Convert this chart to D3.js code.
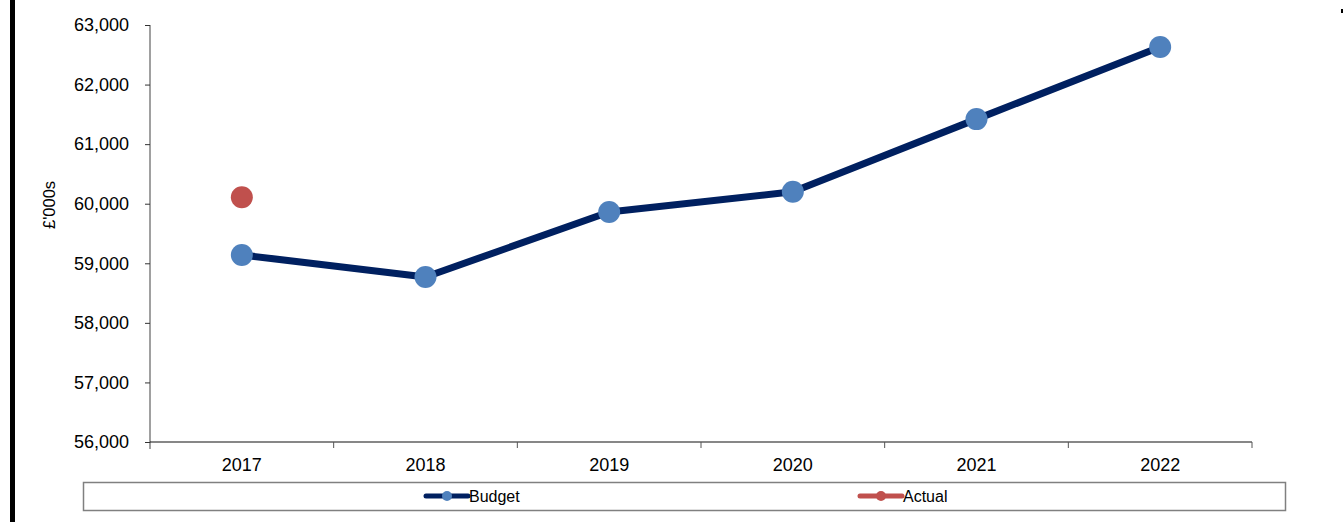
<!DOCTYPE html>
<html>
<head>
<meta charset="utf-8">
<script src="https://cdn.jsdelivr.net/npm/d3@7"></script>
<style>
  html, body { margin: 0; padding: 0; background: #fff; }
  svg { display: block; font-family: "Liberation Sans", Arial, sans-serif; }
</style>
</head>
<body>
<svg id="chart" width="1343" height="522"></svg>
<script>
// Annual figures, £'000s
const years = ["2017", "2018", "2019", "2020", "2021", "2022"];
const budget = [59140, 58770, 59860, 60200, 61420, 62630];
const actual = [60110, null, null, null, null, null];
const yTicks = [56000, 57000, 58000, 59000, 60000, 61000, 62000, 63000];

const svg = d3.select("#chart");
const margin = { left: 150, right: 1252, top: 25, bottom: 442 };

// Black frame edge on the left
svg.append("rect").attr("x", 10).attr("y", 0).attr("width", 5).attr("height", 522).attr("fill", "#000");
svg.append("rect").attr("x", 1341).attr("y", 9).attr("width", 2).attr("height", 4).attr("fill", "#000");

const x = d3.scaleBand().domain(years).range([margin.left, margin.right]);
const y = d3.scaleLinear().domain([56000, 63000]).range([margin.bottom, margin.top]);

// Y axis
const yAxis = svg.append("g")
  .attr("transform", `translate(${margin.left},0)`)
  .call(d3.axisLeft(y).tickValues(yTicks).tickFormat(d3.format(",")).tickSize(5).tickPadding(16));
yAxis.select(".domain").attr("stroke", "#808080").attr("stroke-width", 1.5).attr("d", `M0,${margin.top}V${margin.bottom + 7}`);
yAxis.selectAll(".tick line").attr("stroke", "#333");
yAxis.selectAll("text").attr("font-size", 18).attr("fill", "#000");

// X axis with ticks between categories
const xAxis = svg.append("g").attr("transform", `translate(0,${margin.bottom})`);
xAxis.append("line").attr("x1", margin.left).attr("x2", margin.right).attr("stroke", "#111").attr("stroke-width", 1.2);
const bounds = years.map((d) => x(d) + x.bandwidth());
xAxis.selectAll("line.tk").data(bounds).join("line")
  .attr("class", "tk")
  .attr("x1", (d) => d).attr("x2", (d) => d).attr("y1", 0).attr("y2", 6)
  .attr("stroke", "#555");
xAxis.selectAll("text").data(years).join("text")
  .attr("x", (d) => x(d) + x.bandwidth() / 2)
  .attr("y", 29)
  .attr("text-anchor", "middle")
  .attr("font-size", 18)
  .attr("fill", "#000")
  .text((d) => d);

// Y axis title
svg.append("text")
  .attr("transform", "translate(55,205) rotate(-90)")
  .attr("text-anchor", "middle")
  .attr("font-size", 16.5)
  .attr("fill", "#000")
  .text("£'000s");

const cx = (i) => x(years[i]) + x.bandwidth() / 2;
const navy = "#002060";
const blue = "#4f81bd";
const red = "#c0504d";

// Budget line and markers
const line = d3.line().x((d, i) => cx(i)).y((d) => y(d));
svg.append("path").datum(budget).attr("d", line)
  .attr("fill", "none").attr("stroke", navy).attr("stroke-width", 7).attr("stroke-linejoin", "round");
svg.selectAll("circle.budget").data(budget).join("circle")
  .attr("class", "budget")
  .attr("cx", (d, i) => cx(i)).attr("cy", (d) => y(d)).attr("r", 11)
  .attr("fill", blue);

// Actual markers
svg.selectAll("circle.actual").data(actual.map((v, i) => ({ v, i })).filter((d) => d.v !== null)).join("circle")
  .attr("class", "actual")
  .attr("cx", (d) => cx(d.i)).attr("cy", (d) => y(d.v)).attr("r", 11)
  .attr("fill", red);

// Legend
const legend = svg.append("g");
legend.append("rect").attr("x", 83.5).attr("y", 482.5).attr("width", 1202).attr("height", 28)
  .attr("fill", "#fff").attr("stroke", "#808080").attr("stroke-width", 1.5);
const items = [
  { name: "Budget", line: navy, dot: blue, x: 426 },
  { name: "Actual", line: red, dot: red, x: 860 }
];
items.forEach((it) => {
  legend.append("line").attr("x1", it.x).attr("x2", it.x + 42).attr("y1", 496).attr("y2", 496)
    .attr("stroke", it.line).attr("stroke-width", 5).attr("stroke-linecap", "round");
  legend.append("circle").attr("cx", it.x + 21).attr("cy", 496).attr("r", 5).attr("fill", it.dot);
  legend.append("text").attr("x", it.x + 43).attr("y", 501.5).attr("font-size", 16).attr("fill", "#000").text(it.name);
});
</script>
</body>
</html>
